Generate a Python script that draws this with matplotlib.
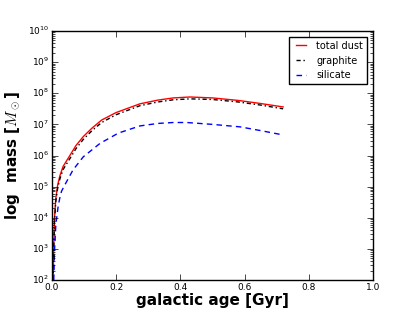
import numpy as np
import matplotlib
matplotlib.use("Agg")
import matplotlib.pyplot as plt

plt.style.use("classic")

# values (age in Gyr, log10 of mass in Msun)
age_total = [0.004, 0.006, 0.008, 0.012, 0.018, 0.025, 0.035, 0.056, 0.075, 0.098,
             0.125, 0.155, 0.2, 0.274, 0.33, 0.378, 0.43, 0.5, 0.58, 0.65, 0.72]
log_total = [2.0, 3.2, 3.95, 4.6, 5.05, 5.35, 5.65, 6.0, 6.32, 6.61,
             6.88, 7.14, 7.38, 7.66, 7.78, 7.85, 7.88, 7.85, 7.77, 7.67, 7.56]
log_graphite = [2.0, 3.1, 3.85, 4.5, 4.95, 5.25, 5.55, 5.9, 6.22, 6.52,
                6.8, 7.06, 7.31, 7.6, 7.72, 7.79, 7.82, 7.8, 7.72, 7.62, 7.5]

age_sil = [0.006, 0.008, 0.0125, 0.02, 0.025, 0.03, 0.04, 0.066, 0.098, 0.15,
           0.207, 0.274, 0.33, 0.378, 0.42, 0.5, 0.586, 0.65, 0.72]
log_sil = [2.0, 2.9, 3.8, 4.4, 4.65, 4.85, 5.05, 5.54, 5.96, 6.39,
           6.72, 6.95, 7.03, 7.06, 7.06, 7.0, 6.92, 6.8, 6.66]

total = 10 ** np.array(log_total)
graphite = 10 ** np.array(log_graphite)
silicate = 10 ** np.array(log_sil)

fig = plt.figure(figsize=(4.15, 3.12), dpi=100)
ax = fig.add_axes([0.125, 0.1026, 0.774, 0.798])

ax.plot(age_total, total, color="r", lw=1, label="total dust")
ax.plot(age_total, graphite, color="k", lw=1, ls=(0, (3, 2, 1, 2)), label="graphite")
ax.plot(age_sil, silicate, color="b", lw=1, ls=(0, (4, 3)), label="silicate")

ax.set_yscale("log")
ax.set_xlim(0, 1.0)
ax.set_ylim(1e2, 1e10)
ax.set_xticks([0.0, 0.2, 0.4, 0.6, 0.8, 1.0])
ax.tick_params(labelsize=6.5, pad=2)

ax.set_xlabel("galactic age [Gyr]", fontsize=11, fontweight="bold", labelpad=1)
ax.set_ylabel(r"log  mass [$M_\odot$]", fontsize=11, fontweight="bold", labelpad=4)

ax.legend(loc="upper right", fontsize=7, handlelength=1.6, borderaxespad=0.6)

fig.savefig("out.png", dpi=100)
